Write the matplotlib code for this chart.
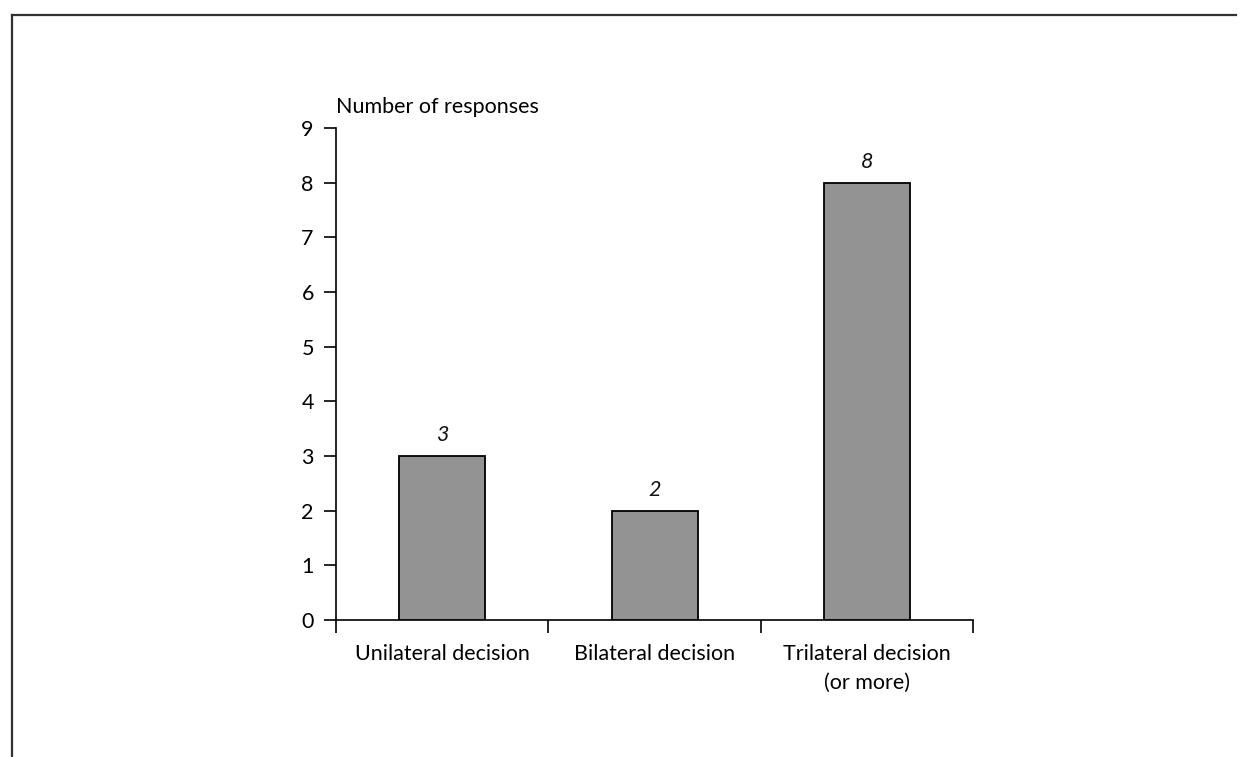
import matplotlib
matplotlib.use("Agg")

import matplotlib.pyplot as plt
from matplotlib.lines import Line2D


categories = ["Unilateral decision", "Bilateral decision", "Trilateral decision\n(or more)"]
responses = [3, 2, 8]
y_ticks = [0, 1, 2, 3, 4, 5, 6, 7, 8, 9]

plt.rcParams["font.family"] = ["Lato", "DejaVu Sans"]

fig = plt.figure(figsize=(12.46, 7.57), dpi=100)
ax = fig.add_axes([0.2697, 0.1810, 0.5112, 0.6499])

positions = [i + 0.5 for i in range(len(categories))]
ax.bar(positions, responses, width=0.405, color="#939393",
       edgecolor="black", linewidth=1.3, zorder=3)

for x, v in zip(positions, responses):
    ax.text(x, v + 0.2, str(v), ha="center", va="bottom",
            fontsize=15.5, style="italic", color="#111111")

ax.set_xlim(0, len(categories))
ax.set_ylim(0, 9)

ax.set_yticks(y_ticks)
ax.set_yticklabels([str(t) for t in y_ticks])

# group boundaries get the tick marks, category names sit between them
ax.set_xticks(range(len(categories) + 1))
ax.set_xticklabels([])
ax.set_xticks(positions, minor=True)
ax.set_xticklabels(categories, minor=True, linespacing=1.55)

ax.tick_params(axis="y", length=9, width=1.2, pad=7, labelsize=15.5)
ax.tick_params(axis="x", which="major", length=9, width=1.2)
ax.tick_params(axis="x", which="minor", length=0, pad=17, labelsize=15.5)

for side in ["top", "right"]:
    ax.spines[side].set_visible(False)
for side in ["left", "bottom"]:
    ax.spines[side].set_linewidth(1.2)

ax.text(0, 1.022, "Number of responses", transform=ax.transAxes,
        ha="left", va="bottom", fontsize=15.5)

# frame lines on the left and top of the figure
fig.add_artist(Line2D([0.0096, 0.0096], [0.0, 1 - 15 / 757],
                      color="#333333", linewidth=1.6))
fig.add_artist(Line2D([0.0096, 0.992], [1 - 15 / 757, 1 - 15 / 757],
                      color="#333333", linewidth=1.6))

fig.savefig("out.png", dpi=100)
plt.close(fig)
